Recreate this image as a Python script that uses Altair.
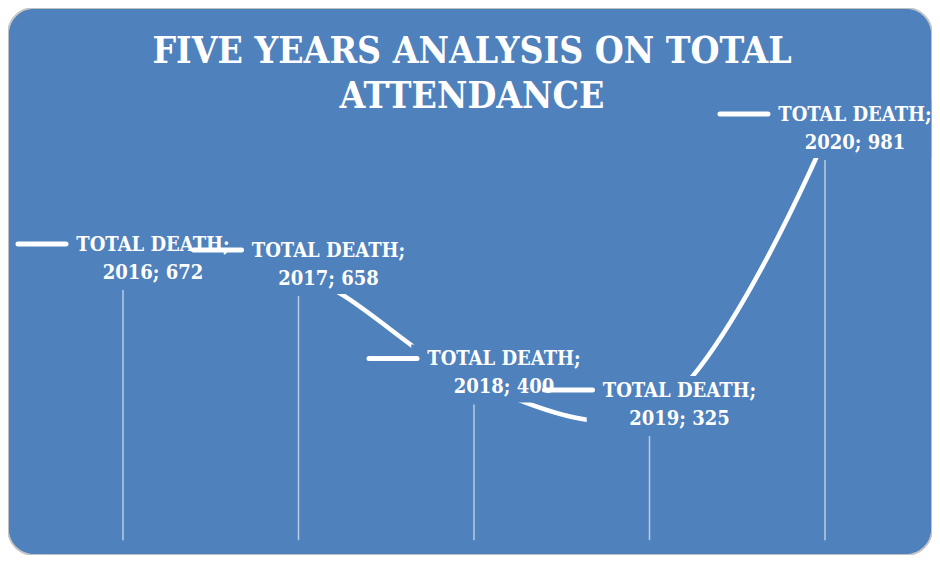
import altair as alt
import pandas as pd

years = [2016, 2017, 2018, 2019, 2020]
deaths = [672, 658, 400, 325, 981]
series_name = "TOTAL DEATH"
title_lines = ["FIVE YEARS ANALYSIS ON TOTAL", "ATTENDANCE"]

BG = "#4F81BD"
BORDER = "#C4C4C4"
FONT = "DejaVu Serif Condensed, DejaVu Serif, Liberation Serif, serif"

df = pd.DataFrame({"year": years, "deaths": deaths, "series": series_name})

W, H = 924, 547
x = alt.X("year:Q", scale=alt.Scale(domain=[2015.3447, 2020.6097], nice=False, zero=False), axis=None)
y = alt.Y("deaths:Q", scale=alt.Scale(domain=[-10.2, 1290], nice=False, zero=False), axis=None)

base = alt.Chart(df).encode(x=x, y=y)

drops = base.mark_rule(color="white", opacity=0.6, strokeWidth=1.5, yOffset=22).encode(
    y2=alt.datum(25)
)

line = base.mark_line(color="white", strokeWidth=4.5, interpolate="catmull-rom", strokeCap="round")

label_bg = base.mark_point(
    shape="M-1.6,-0.5H1.6V0.5H-1.6Z", size=13456, filled=True, fill=BG,
    strokeWidth=0, opacity=1, xOffset=30, yOffset=-9, clip=True,
)

label1 = base.transform_calculate(lab="datum.series + ';'").mark_text(
    font=FONT, fontWeight="bold", fontSize=20, color="white",
    baseline="middle", align="center", xOffset=30, yOffset=-23,
).encode(text="lab:N")

label2 = base.transform_calculate(lab="datum.year + '; ' + datum.deaths").mark_text(
    font=FONT, fontWeight="bold", fontSize=20, color="white",
    baseline="middle", align="center", xOffset=30, yOffset=5,
).encode(text="lab:N")

keys = base.mark_point(
    shape="M-1,0H1", size=2304, filled=False, color="white", stroke="white",
    strokeWidth=5, strokeCap="round", opacity=1, xOffset=-81, yOffset=-24,
)

t1 = alt.Chart(pd.DataFrame({"t": [title_lines[0]]})).mark_text(
    font=FONT, fontWeight="bold", fontSize=37, color="white", baseline="middle", align="center"
).encode(text="t:N", x=alt.value(W / 2 + 2), y=alt.value(44))
t2 = alt.Chart(pd.DataFrame({"t": [title_lines[1]]})).mark_text(
    font=FONT, fontWeight="bold", fontSize=37, color="white", baseline="middle", align="center"
).encode(text="t:N", x=alt.value(W / 2 + 2), y=alt.value(89))

border = alt.Chart(pd.DataFrame({"b": [0]})).mark_rect(
    fill=None, filled=False, stroke=BORDER, strokeWidth=1.5, cornerRadius=26
).encode(x=alt.value(0), x2=alt.value(W), y=alt.value(0), y2=alt.value(H))

chart = alt.layer(drops, line, label_bg, label1, label2, keys, t1, t2, border).properties(
    width=W, height=H, padding=0, background="white",
    autosize=alt.AutoSizeParams(type="none"),
).configure_view(
    fill=BG, stroke=BORDER, strokeWidth=1.5, cornerRadius=26
)

chart.save("out.html", embed_options={"renderer": "svg", "actions": False})
